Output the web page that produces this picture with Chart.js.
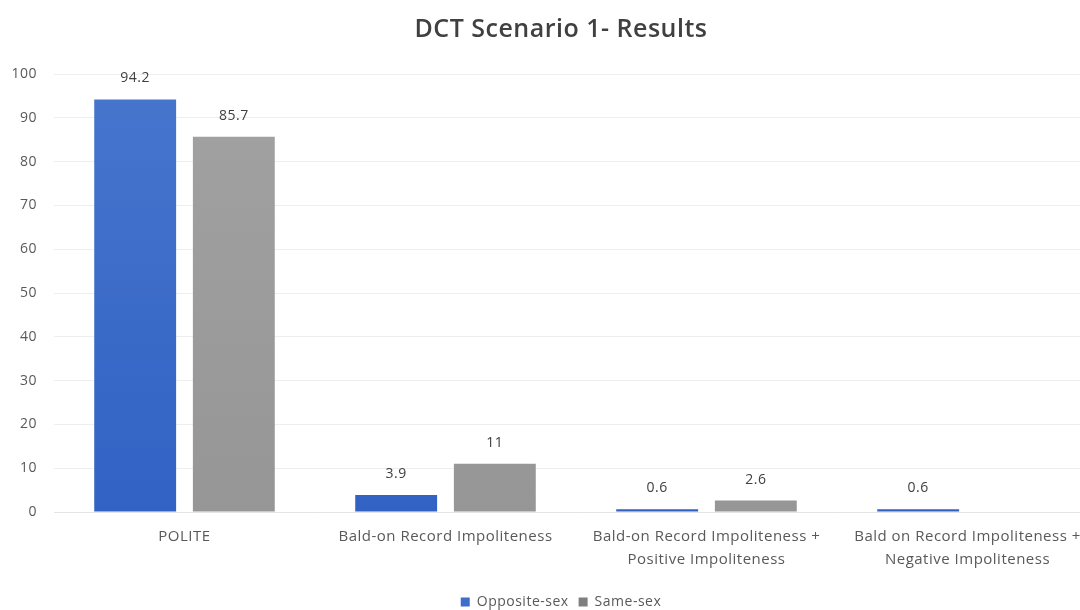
<!DOCTYPE html>
<html>
<head>
<meta charset="utf-8">
<script src="https://cdn.jsdelivr.net/npm/chart.js@4"></script>
<style>
  html, body { margin: 0; padding: 0; background: #fff; overflow: hidden; width: 1080px; height: 610px; }
  #wrap { width: 1122px; height: 610px; }
</style>
</head>
<body>
<div id="wrap"><canvas id="c" width="1122" height="610"></canvas></div>
<script>
// Response categories (multi-line labels as arrays)
const categories = [
  'POLITE',
  'Bald-on Record Impoliteness',
  ['Bald-on Record Impoliteness +', 'Positive Impoliteness'],
  ['Bald on Record Impoliteness +', 'Negative Impoliteness']
];
// Percentages per group
const oppositeSex = [94.2, 3.9, 0.6, 0.6];
const sameSex = [85.7, 11, 2.6, null];
// Value axis
const yMin = 0;
const yMax = 100;
const yStep = 10;

const seriesNames = ['Opposite-sex', 'Same-sex'];
const blueTop = '#4676cd', blueBottom = '#3262c4', blueSolid = '#3f6dca';
const greyTop = '#a2a2a2', greyBottom = '#969696', greySolid = '#8c8c8c';

const FONT = '"Open Sans", "Liberation Sans", sans-serif';
const TRACKING = '0.5px';
const HEADER_INSET = 24;

function barGradient(top, bottom, solid) {
  return (context) => {
    const chart = context.chart;
    const area = chart.chartArea;
    if (!area) return solid;
    const g = chart.ctx.createLinearGradient(0, area.top, 0, area.bottom);
    g.addColorStop(0, top);
    g.addColorStop(1, bottom);
    return g;
  };
}

// Slightly open letter spacing for all chart text
const tracking = {
  id: 'tracking',
  beforeLayout(chart) { chart.ctx.letterSpacing = TRACKING; },
  beforeDraw(chart) { chart.ctx.letterSpacing = TRACKING; }
};

// Centre title and legend over the band that excludes the value-axis gutter
const headerInset = {
  id: 'headerInset',
  afterLayout(chart) {
    [chart.titleBlock, chart.legend].forEach((box) => {
      if (box) box.left = box.left + HEADER_INSET;
    });
  }
};

// Writes each bar's value above it
const valueLabels = {
  id: 'valueLabels',
  afterDatasetsDraw(chart) {
    const ctx = chart.ctx;
    ctx.save();
    ctx.font = '14px ' + FONT;
    ctx.fillStyle = '#404040';
    ctx.textAlign = 'center';
    ctx.textBaseline = 'middle';
    chart.data.datasets.forEach((ds, di) => {
      const meta = chart.getDatasetMeta(di);
      meta.data.forEach((el, i) => {
        const v = ds.data[i];
        if (v === null || v === undefined) return;
        ctx.fillText(String(v), el.x, el.y - 21);
      });
    });
    ctx.restore();
  }
};

new Chart(document.getElementById('c'), {
  type: 'bar',
  data: {
    labels: categories,
    datasets: [
      {
        label: seriesNames[0],
        data: oppositeSex,
        backgroundColor: barGradient(blueTop, blueBottom, blueSolid),
        categoryPercentage: 0.756,
        barPercentage: 0.83
      },
      {
        label: seriesNames[1],
        data: sameSex,
        backgroundColor: barGradient(greyTop, greyBottom, greySolid),
        categoryPercentage: 0.756,
        barPercentage: 0.83
      }
    ]
  },
  options: {
    responsive: false,
    animation: false,
    layout: { padding: { top: 0, right: 24, bottom: -9, left: 0 } },
    plugins: {
      title: {
        display: true,
        text: 'DCT Scenario 1- Results',
        color: '#404040',
        font: { family: FONT, size: 25, weight: '600' },
        padding: { top: 15, bottom: 29 }
      },
      legend: {
        position: 'bottom',
        labels: {
          color: '#595959',
          font: { family: FONT, size: 14 },
          boxWidth: 9,
          boxHeight: 9,
          padding: 10,
          generateLabels(chart) {
            const items = Chart.defaults.plugins.legend.labels.generateLabels(chart);
            const solids = [blueSolid, '#7f7f7f'];
            items.forEach((it, i) => { it.fillStyle = solids[i]; it.strokeStyle = solids[i]; it.lineWidth = 0; });
            return items;
          }
        }
      },
      tooltip: { enabled: false }
    },
    scales: {
      x: {
        grid: { display: false, drawTicks: false },
        border: { display: true, color: '#e4e4e4' },
        ticks: {
          color: '#595959',
          font: { family: FONT, size: 15, lineHeight: 1.55 },
          padding: 13,
          maxRotation: 0,
          minRotation: 0,
          autoSkip: false
        },
        afterFit(scale) { scale.height = 73; }
      },
      y: {
        min: yMin,
        max: yMax,
        grid: { color: '#eeeeee', drawTicks: false },
        border: { display: false },
        ticks: {
          stepSize: yStep,
          color: '#595959',
          font: { family: FONT, size: 14 },
          padding: 17
        },
        afterFit(scale) { scale.width = 54; }
      }
    }
  },
  plugins: [tracking, headerInset, valueLabels]
});
</script>
</body>
</html>
